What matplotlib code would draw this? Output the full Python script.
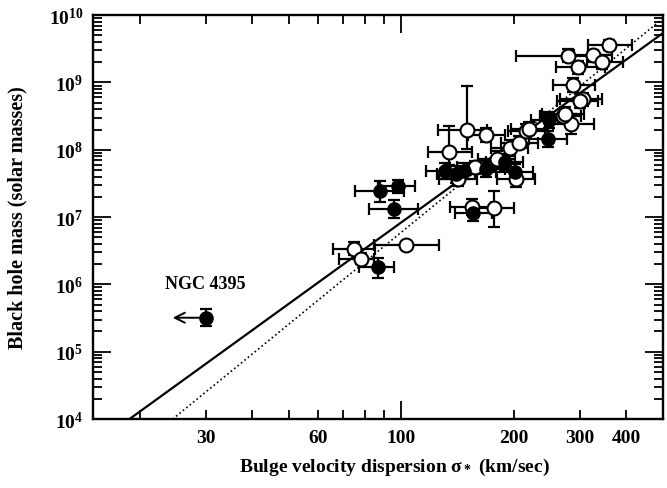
import numpy as np
import matplotlib
matplotlib.use("Agg")
import matplotlib.pyplot as plt
from matplotlib.ticker import FixedLocator, FuncFormatter, NullFormatter

plt.rcParams['font.family'] = ['Liberation Serif', 'DejaVu Serif']
plt.rcParams['font.weight'] = 'bold'
plt.rcParams['mathtext.fontset'] = 'custom'
plt.rcParams['mathtext.rm'] = 'Liberation Serif:bold'
plt.rcParams['mathtext.it'] = 'Liberation Serif:bold'
plt.rcParams['mathtext.bf'] = 'Liberation Serif:bold'

# galaxies with dynamical black hole masses (open symbols)
open_sigma = [75, 78, 103, 134, 150, 169, 195, 207, 216, 220, 285, 270, 274, 180,
              158, 203, 142, 155, 177, 279, 326, 359, 345, 297, 288, 306, 300]
open_mass = [3.4e6, 2.4e6, 3.8e6, 9.4e7, 1.95e8, 1.65e8, 1.05e8, 1.28e8, 1.9e8, 2.07e8,
             2.4e8, 3.2e8, 3.4e8, 7.2e7, 5.5e7, 3.7e7, 3.7e7, 1.4e7, 1.35e7, 2.5e9,
             2.55e9, 3.6e9, 2.0e9, 1.67e9, 9.1e8, 5.6e8, 5.3e8]
# errors in dex (lower, upper)
open_sig_lo = [.058, .059, .086, .054, .078, .05, .05, .05, .05, .05, .05, .06, .06, .05,
               .05, .05, .05, .06, .05, .139, .05, .055, .04, .058, .054, .06, .06]
open_sig_hi = [.056, .035, .088, .062, .054, .05, .05, .05, .05, .05, .06, .05, .05, .05,
               .05, .05, .05, .05, .055, .054, .05, .061, .055, .071, .058, .05, .05]
open_m_lo = [.1, .08, .05, .2, .28, .1, .12, .1, .1, .1, .15, .1, .1, .12,
             .1, .12, .1, .12, .28, .1, .08, .07, .1, .1, .1, .1, .1]
open_m_hi = [.1, .08, .05, .38, .65, .1, .12, .1, .1, .1, .15, .1, .1, .12,
             .1, .12, .1, .12, .25, .1, .08, .07, .1, .1, .1, .1, .1]

# reverberation-mapped AGN (filled symbols)
agn_sigma = [86.5, 88, 98, 95.5, 131, 140, 147.5, 168.7, 189, 201, 156, 247, 249]
agn_mass = [1.8e6, 2.4e7, 2.85e7, 1.33e7, 4.8e7, 4.3e7, 4.9e7, 5.15e7, 6.5e7, 4.6e7,
            1.17e7, 1.44e8, 2.75e8]
agn_sig_lo = [.05, .067, .052, .066, .05, .05, .05, .05, .05, .05, .05, .05, .05]
agn_sig_hi = [.044, .062, .046, .065, .05, .05, .05, .05, .05, .05, .05, .05, .05]
agn_m_lo = [.16, .15, .1, .14, .12, .12, .12, .12, .12, .12, .12, .12, .12]
agn_m_hi = [.14, .15, .1, .13, .12, .12, .12, .12, .12, .12, .12, .12, .12]

# NGC 4395: upper limit on sigma
n4395_sigma = 30
n4395_mass = 3.2e5
n4395_m_err = 0.13
n4395_sigma_arrow = 24.5

# M-sigma fits: log M = zp + slope * log(sigma / 200)
fit_solid = (8.13, 4.02)
fit_dotted = (8.14, 4.54)

x_labelled = [30, 60, 200, 300, 400]
x_minor = [20, 30, 40, 50, 60, 70, 80, 90, 200, 300, 400]
y_decades = list(range(4, 11))


def dex_err(vals, lo, hi):
    v = np.array(vals, float)
    return [v - v / 10 ** np.array(lo), v * 10 ** np.array(hi) - v]


fig = plt.figure(figsize=(6.67, 4.89), dpi=100)
ax = fig.add_axes([0.1394, 0.141, 0.854, 0.826])
ax.set_xscale('log')
ax.set_yscale('log')
ax.set_xlim(15, 500)
ax.set_ylim(1e4, 1e10)

s = np.logspace(np.log10(10), np.log10(600), 200)
for (zp, slope), ls, lw in [(fit_solid, '-', 1.6), (fit_dotted, ':', 1.2)]:
    ax.plot(s, 10 ** (zp + slope * np.log10(s / 200.0)), color='black', ls=ls, lw=lw, zorder=1)

eb = dict(fmt='none', ecolor='black', elinewidth=1.6, capsize=4.5, capthick=1.6, zorder=2)
ax.errorbar(open_sigma, open_mass,
            xerr=dex_err(open_sigma, open_sig_lo, open_sig_hi),
            yerr=dex_err(open_mass, open_m_lo, open_m_hi), **eb)
ax.errorbar(agn_sigma, agn_mass,
            xerr=dex_err(agn_sigma, agn_sig_lo, agn_sig_hi),
            yerr=dex_err(agn_mass, agn_m_lo, agn_m_hi), **eb)
ax.errorbar([n4395_sigma], [n4395_mass],
            yerr=dex_err([n4395_mass], [n4395_m_err], [n4395_m_err]), **eb)

ax.plot(open_sigma, open_mass, 'o', ms=10, mfc='white', mec='black', mew=1.5, zorder=3)
ax.plot(agn_sigma, agn_mass, 'o', ms=9.5, mfc='black', mec='black', mew=1.0, zorder=4)
ax.plot([n4395_sigma], [n4395_mass], 'o', ms=9.5, mfc='black', mec='black', zorder=4)

ax.annotate('', xy=(n4395_sigma_arrow, n4395_mass), xytext=(n4395_sigma, n4395_mass),
            arrowprops=dict(arrowstyle='->', lw=1.4, color='black', mutation_scale=18,
                            shrinkA=0, shrinkB=0), zorder=2)
ax.text(n4395_sigma, 1.04e6, 'NGC 4395', ha='center', va='center', fontsize=13,
        fontweight='bold')

# x: one long tick at 100, short ticks elsewhere, some of them labelled
ax.xaxis.set_major_locator(FixedLocator([100]))
ax.xaxis.set_minor_locator(FixedLocator(x_minor))
ax.xaxis.set_major_formatter(FuncFormatter(lambda v, p: '%d' % v))
ax.xaxis.set_minor_formatter(FuncFormatter(lambda v, p: '%d' % round(v) if round(v) in x_labelled else ''))

# y: decades with 2..9 minor ticks, all inside the plotted range
y_minor = [k * 10.0 ** d for d in y_decades[:-1] for k in range(2, 10)]
ax.yaxis.set_major_locator(FixedLocator([10.0 ** d for d in y_decades]))
ax.yaxis.set_minor_locator(FixedLocator(y_minor))
ax.yaxis.set_major_formatter(FuncFormatter(lambda v, p: r'$10^{%d}$' % round(np.log10(v))))
ax.yaxis.set_minor_formatter(NullFormatter())

ax.tick_params(which='both', direction='in', top=True, right=True, width=1.3, labelsize=14)
ax.tick_params(which='major', length=13, pad=7)
ax.tick_params(which='minor', length=6.5, pad=7)
for sp in ax.spines.values():
    sp.set_linewidth(1.7)

ax.set_xlabel(r'Bulge velocity dispersion σ$_*$ (km/sec)', fontsize=14, fontweight='bold')
ax.xaxis.set_label_coords(0.53, -0.09)
ax.set_ylabel('Black hole mass (solar masses)', fontsize=14.5, fontweight='bold')
ax.yaxis.set_label_coords(-0.115, 0.5)

fig.savefig('out.png', dpi=100)
